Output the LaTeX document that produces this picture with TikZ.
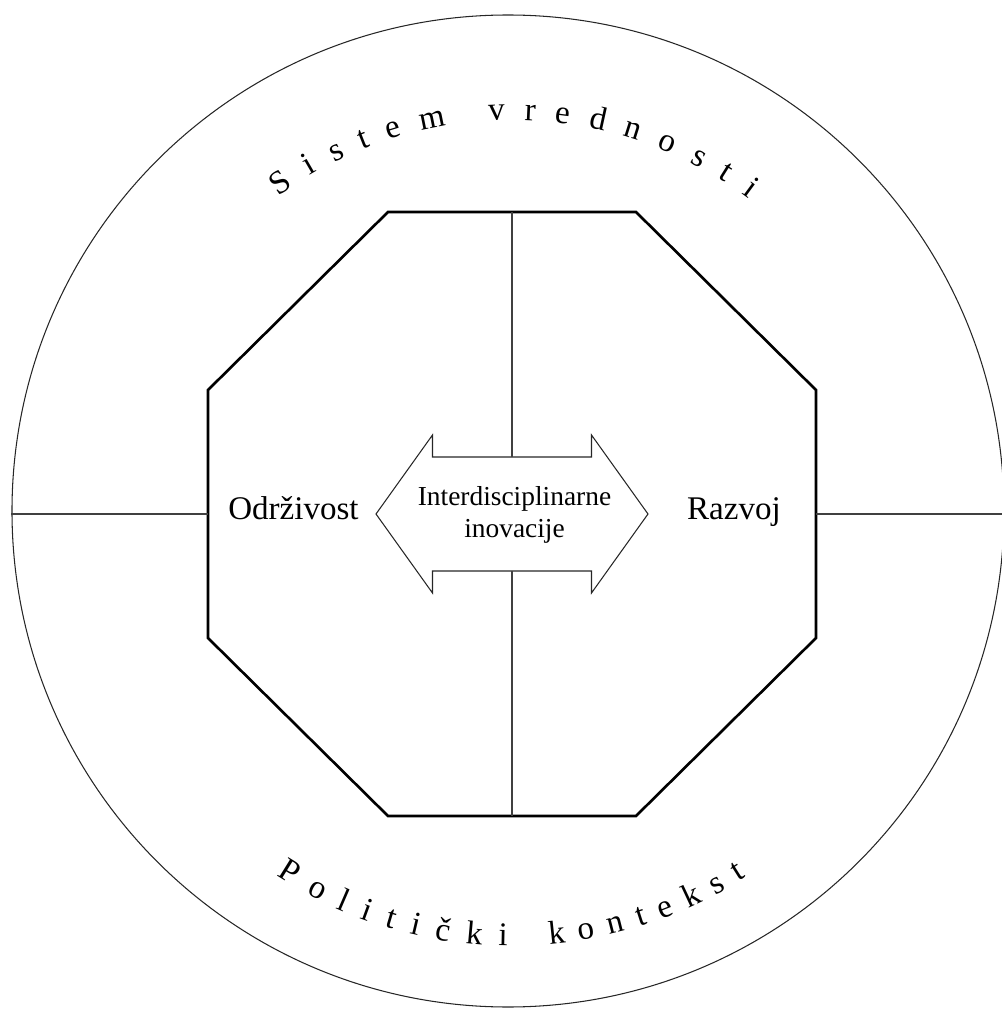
\documentclass[tikz,border=0pt]{standalone}
\usepackage{fontspec}
\setmainfont{Liberation Serif}
\usetikzlibrary{decorations.text}
\newcommand\arcfont{\fontsize{18.8}{22}\selectfont}

\begin{document}
\begin{tikzpicture}[font=\arcfont]
    \tikzset{ln/.style={line width=0.7pt,black!75},
             oc/.style={line width=1.5pt,line join=miter},
             ar/.style={line width=0.6pt,black!85,line join=miter},
             arc text/.style={decorate,decoration={text along path,text={|\arcfont|#1},
                              text align=fit to path stretching spaces}}}
    \useasboundingbox (-10.24,-9.92) rectangle (9.80,10.28);
    \node[circle,draw,line width=0.6pt,black!85,minimum size=19.84cm,inner sep=0pt] (ring) at (-0.08,0.06) {};
    % octagon
    \draw[oc] (-2.48,6.04) -- (2.48,6.04) -- (6.08,2.48) -- (6.08,-2.48) -- (2.48,-6.04)
              -- (-2.48,-6.04) -- (-6.08,-2.48) -- (-6.08,2.48) -- cycle;
    \coordinate (otop) at (0,6.04);
    \coordinate (obot) at (0,-6.04);
    \coordinate (olft) at (-6.08,0);
    \coordinate (orgt) at (6.08,0);
    % double arrow
    \draw[ar] (-2.72,0) -- (-1.59,1.58) -- (-1.59,1.14) -- (1.59,1.14) -- (1.59,1.58) -- (2.72,0)
              -- (1.59,-1.58) -- (1.59,-1.14) -- (-1.59,-1.14) -- (-1.59,-1.58) -- cycle;
    \coordinate (atop) at (0,1.14);
    \coordinate (abot) at (0,-1.14);
    \node[font=\fontsize{15.6}{18.2}\selectfont,align=center] (inov) at (0.05,-0.02) {Interdisciplinarne\\inovacije};
    \node[anchor=base] (odr) at (-4.37,-0.1) {Održivost};
    \node[anchor=base] (raz) at (4.44,-0.1) {Razvoj};
    % dividing lines
    \draw[ln] (otop) -- (atop); \draw[ln] (abot) -- (obot);
    \draw[ln] (ring.west |- olft) -- (olft); \draw[ln] (orgt) -- (ring.east |- orgt);
    % text along the ring
    \path[arc text={S i s t e m}] (126.3:7.88) arc[start angle=126.3,end angle=99.6,radius=7.88];
    \path[arc text={v r e d n o s t i}] (93.4:7.88) arc[start angle=93.4,end angle=53.1,radius=7.88];
    \path[arc text={P o l i t i č k i}] (236.9:8.64) arc[start angle=236.9,end angle=269.4,radius=8.64];
    \path[arc text={k o n t e k s t}] (275.0:8.64) arc[start angle=275.0,end angle=302.9,radius=8.64];
\end{tikzpicture}
\end{document}
